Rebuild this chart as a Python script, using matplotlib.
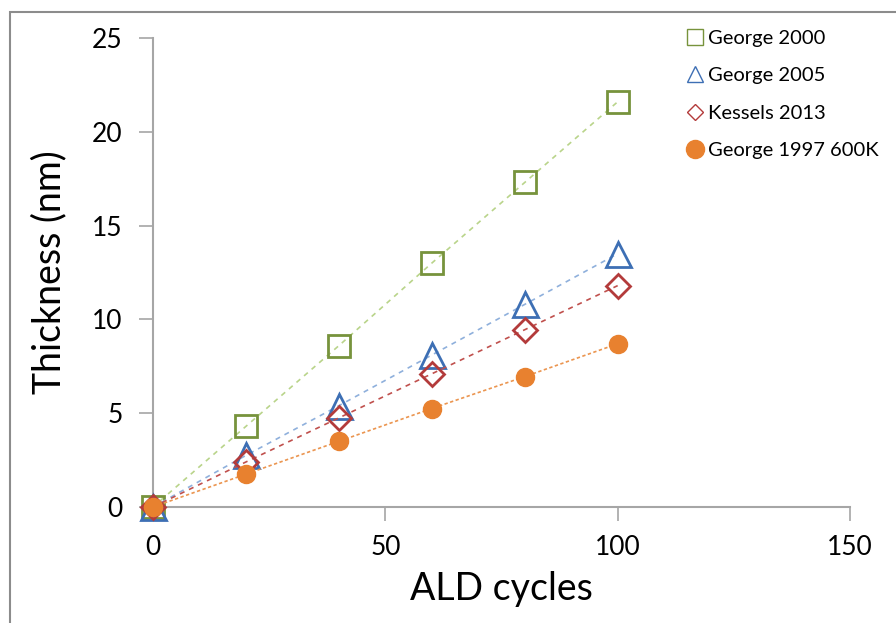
import matplotlib
matplotlib.use("Agg")
import matplotlib.pyplot as plt
from matplotlib.patches import Rectangle
from matplotlib.lines import Line2D

plt.rcParams['font.family'] = ['Lato', 'DejaVu Sans']

cycles = [0, 20, 40, 60, 80, 100]
george2000 = [0, 4.3, 8.6, 13.0, 17.3, 21.6]
george2005 = [0, 2.75, 5.4, 8.1, 10.8, 13.5]
kessels2013 = [0, 2.4, 4.75, 7.1, 9.45, 11.8]
george1997 = [0, 1.75, 3.5, 5.25, 6.95, 8.7]

series_labels = ["George 2000", "George 2005", "Kessels 2013", "George 1997 600K"]
x_ticks = [0, 50, 100, 150]
y_ticks = [0, 5, 10, 15, 20, 25]

fig = plt.figure(figsize=(8.96, 6.23), dpi=100)
fig.patches.append(Rectangle((10/896, -0.1), 1.2, 1.1 - 12/623, transform=fig.transFigure,
                             fill=False, edgecolor='#8c8c8c', linewidth=1.5))
ax = fig.add_axes([153/896, 1-507/623, (850-153)/896, (507-38)/623])

ax.plot(cycles, george2000, linestyle=(0, (3, 3)), color='#b9d48a', linewidth=1.2,
        marker='s', markersize=16, markerfacecolor='none', markeredgecolor='#77933c',
        markeredgewidth=2, label=series_labels[0], zorder=3, clip_on=False)
ax.plot(cycles, george2005, linestyle=(0, (3, 3)), color='#8fb0dc', linewidth=1.2,
        marker='^', markersize=18, markerfacecolor='none', markeredgecolor='#3d6fb4',
        markeredgewidth=2, label=series_labels[1], zorder=4, clip_on=False)
ax.plot(cycles, kessels2013, linestyle=(0, (3, 3)), color='#c0504d', linewidth=1.2,
        marker='D', markersize=12, markerfacecolor='none', markeredgecolor='#b33b3b',
        markeredgewidth=2, label=series_labels[2], zorder=5, clip_on=False)
ax.plot(cycles, george1997, linestyle=(0, (2, 1.5)), color='#eb9550', linewidth=1.2,
        marker='o', markersize=13, markerfacecolor='#e8812f', markeredgecolor='#e8812f',
        label=series_labels[3], zorder=6, clip_on=False)

ax.set_xlim(0, 150)
ax.set_ylim(0, 25)
ax.set_xticks(x_ticks)
ax.set_yticks(y_ticks)
ax.set_xticklabels([str(t) for t in x_ticks])
ax.set_yticklabels([str(t) for t in y_ticks])
for s in ['top', 'right']:
    ax.spines[s].set_visible(False)
for s in ['left', 'bottom']:
    ax.spines[s].set_color('#a6a6a6')
    ax.spines[s].set_linewidth(1.5)
ax.tick_params(axis='both', colors='#a6a6a6', width=1.2, length=10, labelsize=19,
               labelcolor='black')
ax.tick_params(axis='y', pad=12)
ax.tick_params(axis='x', pad=10)
ax.set_xlabel("ALD cycles", fontsize=27, labelpad=8)
ax.set_ylabel("Thickness (nm)", fontsize=27, labelpad=18)

handles = [
    Line2D([], [], linestyle='none', marker='s', markersize=11, markerfacecolor='none',
           markeredgecolor='#77933c', markeredgewidth=1),
    Line2D([], [], linestyle='none', marker='^', markersize=12, markerfacecolor='none',
           markeredgecolor='#3d6fb4', markeredgewidth=1),
    Line2D([], [], linestyle='none', marker='D', markersize=8, markerfacecolor='none',
           markeredgecolor='#b33b3b', markeredgewidth=1),
    Line2D([], [], linestyle='none', marker='o', markersize=13, markerfacecolor='#e8812f',
           markeredgecolor='#e8812f'),
]
fig.legend(handles, series_labels, loc='upper left', bbox_to_anchor=(681/896, 1-22/623),
           frameon=False, fontsize=14.5, handlelength=0.6, handletextpad=0.35,
           labelspacing=1.0, borderaxespad=0)

fig.savefig("out.png", dpi=100)
